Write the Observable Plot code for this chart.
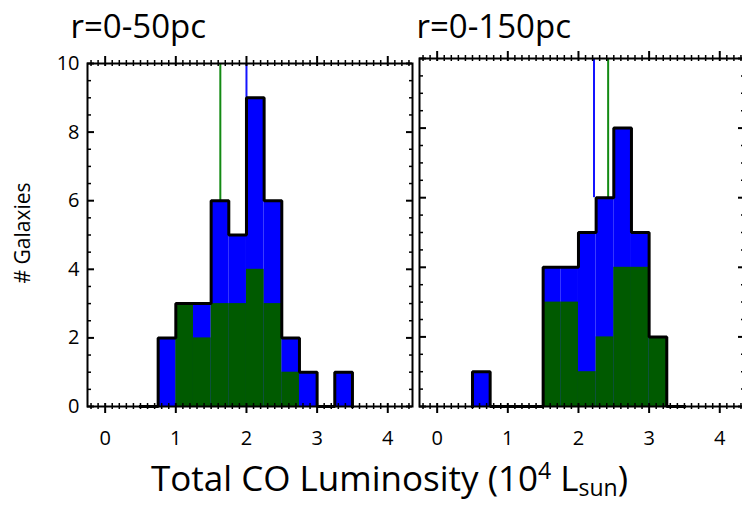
<!DOCTYPE html>
<html><head><meta charset="utf-8">
<script src="https://cdn.jsdelivr.net/npm/d3@7"></script>
<script src="https://cdn.jsdelivr.net/npm/@observablehq/plot@0.6"></script>
<style>
html,body{margin:0;padding:0;background:#fff;overflow:hidden}
#wrap{position:relative;width:742px;height:505px;overflow:hidden;background:#fff}
#wrap > svg{position:absolute;top:0;margin:0}
</style></head><body><div id="wrap"></div>
<script>
// ---- data ----
const binLo = [0.5, 0.75, 1.0, 1.25, 1.5, 1.75, 2.0, 2.25, 2.5, 2.75, 3.0, 3.25];
const binWidth = 0.25;
const allSmall   = [0, 2, 3, 3, 6, 5, 9, 6, 2, 1, 0, 1];   // r=0-50pc, all galaxies
const greenSmall = [0, 0, 3, 2, 3, 3, 4, 3, 1, 0, 0, 0];   // r=0-50pc, subset
const allLarge   = [1, 0, 0, 0, 4, 4, 5, 6, 8, 5, 2, 0];   // r=0-150pc, all galaxies
const greenLarge = [0, 0, 0, 0, 3, 3, 1, 2, 4, 4, 2, 0];   // r=0-150pc, subset
const meanSmallX   = [2.0, 1.63];   // [blue, green]
const meanSmallEnd = [9, 6];
const meanLargeX   = [2.22, 2.42];
const meanLargeEnd = [6, 6];
const meanColors = ["#1414ff", "#138a13"];
const panelTitles = ["r=0-50pc", "r=0-150pc"];
const xTicks = [0, 1, 2, 3, 4];
const yTicks = [0, 2, 4, 6, 8, 10];
const xMinor = d3.range(-2, 44).map(i => i / 10).filter(v => Math.abs(v - Math.round(v)) > 1e-9);
const yMinor = d3.range(1, 20).map(i => i / 2).filter(v => v % 2 !== 0);
const yLabel = "# Galaxies";

const BLUE = "#0000ff", DGREEN = "#005a00";

function panel({all, green, meanX, meanEnd, title, showY, width, marginLeft, marginRight, marginTop, marginBottom, titleDx, titleDy}) {
  const height = 505;
  const innerH = height - marginTop - marginBottom;
  const innerW = width - marginLeft - marginRight;
  const bars = binLo.map((lo, i) => ({x1: lo, x2: lo + binWidth, all: all[i], green: green[i]}));
  const outline = [{x: bars[0].x1, y: 0}];
  bars.forEach(b => { outline.push({x: b.x1, y: b.all}, {x: b.x2, y: b.all}); });
  outline.push({x: bars[bars.length - 1].x2, y: 0});
  const means = meanX.map((x, i) => ({x, y1: meanEnd[i], y2: 10, c: meanColors[i]}));
  const marks = [
    Plot.rectY(bars, {x1: "x1", x2: "x2", y: "all", fill: BLUE, inset: 0}),
    Plot.rectY(bars, {x1: "x1", x2: "x2", y: "green", fill: DGREEN, inset: 0}),
    Plot.ruleX(means, {x: "x", y1: "y1", y2: "y2", stroke: "c", strokeWidth: 2}),
    Plot.line(outline, {x: "x", y: "y", stroke: "black", strokeWidth: 3, strokeLinejoin: "miter", strokeLinecap: "square"}),
    Plot.frame({stroke: "black", strokeWidth: 2}),
    // bottom ticks
    Plot.ruleX(xMinor, {insetTop: innerH - 3, insetBottom: -3, stroke: "black", strokeWidth: 1.5}),
    Plot.ruleX(xTicks, {insetTop: innerH - 3, insetBottom: -7, stroke: "black", strokeWidth: 2}),
    // top ticks
    Plot.ruleX(xMinor, {insetTop: -3, insetBottom: innerH - 3, stroke: "black", strokeWidth: 1.5}),
    Plot.ruleX(xTicks, {insetTop: -7, insetBottom: innerH - 3, stroke: "black", strokeWidth: 2}),
    // left ticks (inward)
    Plot.ruleY(yMinor, {insetLeft: 0, insetRight: innerW - 4, stroke: "black", strokeWidth: 1.5}),
    Plot.ruleY(yTicks, {insetLeft: 0, insetRight: innerW - 7, stroke: "black", strokeWidth: 2}),
    // right ticks (inward)
    Plot.ruleY(yMinor, {insetLeft: innerW - 3, insetRight: 0, stroke: "black", strokeWidth: 1.5}),
    Plot.ruleY(yTicks, {insetLeft: innerW - 6, insetRight: 0, stroke: "black", strokeWidth: 2}),
    Plot.axisX({ticks: xTicks, anchor: "bottom", tickSize: 0, tickPadding: 24, label: null, fontSize: 20, tickFormat: d => String(d)}),
    Plot.text([title], {frameAnchor: "top-left", textAnchor: "start", lineAnchor: "bottom", dx: titleDx, dy: titleDy, fontSize: 33, fill: "black"})
  ];
  if (showY) {
    marks.push(Plot.axisY({ticks: yTicks, anchor: "left", tickSize: 0, tickPadding: 8, label: null, fontSize: 20, tickFormat: d => String(d)}));
    marks.push(Plot.text([yLabel], {frameAnchor: "left", rotate: -90, dx: -64, dy: -2, fontSize: 21, textAnchor: "middle", lineAnchor: "middle", fill: "black"}));
  }
  return Plot.plot({
    width, height, marginLeft, marginRight, marginTop, marginBottom,
    x: {domain: [-0.25, 4.35], axis: null},
    y: {domain: [0, 10], axis: null},
    style: {fontFamily: "'Open Sans', sans-serif", fontSize: "20px", background: "transparent", overflow: "visible", color: "black"},
    marks
  });
}

const wrap = document.getElementById("wrap");
const p1 = panel({all: allSmall, green: greenSmall, meanX: meanSmallX, meanEnd: meanSmallEnd, title: panelTitles[0], showY: true,
  width: 415, marginLeft: 87, marginRight: 3, marginTop: 63, marginBottom: 99, titleDx: -17, titleDy: -26});
p1.style.left = "0px";
wrap.appendChild(p1);
const p2 = panel({all: allLarge, green: greenLarge, meanX: meanLargeX, meanEnd: meanLargeEnd, title: panelTitles[1], showY: false,
  width: 329, marginLeft: 4, marginRight: 0, marginTop: 58, marginBottom: 99, titleDx: -3, titleDy: -21});
p2.style.left = "415px";
wrap.appendChild(p2);

// shared x-axis label
const ov = d3.select(wrap).append("svg").attr("width", 742).attr("height", 505)
  .style("position", "absolute").style("left", "0px").style("top", "0px").style("pointer-events", "none");
const t = ov.append("text").attr("x", 151).attr("y", 491)
  .attr("font-family", "'Open Sans', sans-serif").attr("font-size", 35).attr("fill", "black");
t.append("tspan").text("Total CO Luminosity (10");
t.append("tspan").attr("font-size", 23).attr("dy", -12).text("4");
t.append("tspan").attr("dy", 12).text(" L");
t.append("tspan").attr("font-size", 23).attr("dy", 5).text("sun");
t.append("tspan").attr("dy", -5).text(")");
</script></body></html>
